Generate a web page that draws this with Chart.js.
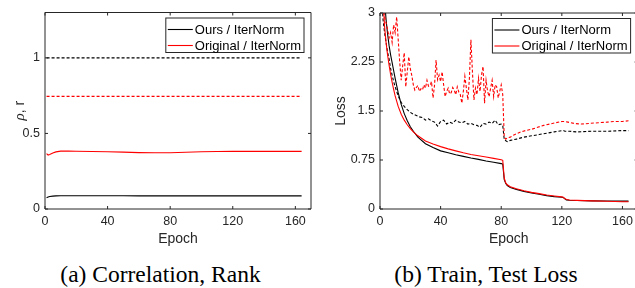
<!DOCTYPE html>
<html>
<head>
<meta charset="utf-8">
<script src="https://cdn.jsdelivr.net/npm/chart.js@4.4.1/dist/chart.umd.min.js"></script>
<style>
  html, body { margin: 0; padding: 0; background: #fff; }
  body { width: 635px; height: 288px; position: relative; overflow: hidden; }
  canvas { position: absolute; top: 0; }
  #corrChart { left: 0; }
  #lossChart { left: 320px; }
  .caption {
    position: absolute; top: 263px;
    font-family: "Liberation Serif", "Times New Roman", serif;
    font-size: 23.5px; line-height: 23.5px;
    white-space: nowrap; transform: translateX(-50%); color: #000;
  }
</style>
</head>
<body>
<canvas id="corrChart" width="318" height="250"></canvas>
<canvas id="lossChart" width="340" height="250"></canvas>
<div class="caption" style="left:160.5px">(a) Correlation, Rank</div>
<div class="caption" style="left:486px">(b) Train, Test Loss</div>

<script>
// ---- shared labels / ticks ----
const seriesLabels = ['Ours / IterNorm', 'Original / IterNorm'];
const epochTicks = [0, 40, 80, 120, 160];
const corrTicks = [0, 0.5, 1];
const lossTicks = [0, 0.75, 1.5, 2.25, 3];

// ---- (a) correlation (solid) and rank (dotted) ----
const corrEpochs = [1, 2, 3, 5, 7, 10, 15, 20, 30, 40, 50, 60, 70, 80, 90, 100, 110, 120, 140, 164];
const oursCorr = [0.075, 0.080, 0.083, 0.085, 0.087, 0.088, 0.088, 0.088, 0.088, 0.088, 0.088, 0.087, 0.087, 0.087, 0.087, 0.087, 0.087, 0.087, 0.087, 0.087];
const origCorr = [0.366, 0.357, 0.360, 0.370, 0.378, 0.383, 0.383, 0.382, 0.380, 0.379, 0.376, 0.373, 0.372, 0.372, 0.375, 0.379, 0.380, 0.381, 0.381, 0.381];
const rankEpochs = [1, 164];
const oursRank = [1, 1];
const origRank = [0.745, 0.745];

// ---- (b) train loss (solid) ----
const trainEpochs = [1, 2, 3, 4, 5, 6, 7, 8, 9, 10, 12, 14, 16, 18, 20, 22, 25, 30, 35, 40, 45, 50, 55, 60, 65, 70, 75, 80, 81,
  82, 83, 84, 86, 90, 95, 100, 105, 110, 115, 120, 121, 122, 123, 125, 130, 140, 150, 160, 164];
const oursTrain = [4.4, 3.7, 3.2, 2.9, 2.68, 2.5, 2.36, 2.24, 2.12, 2.0, 1.78, 1.6, 1.46, 1.35, 1.26, 1.19, 1.1, 1.0, 0.94, 0.89, 0.86, 0.83, 0.805, 0.78, 0.76, 0.735, 0.715, 0.695, 0.685,
  0.45, 0.39, 0.36, 0.33, 0.30, 0.27, 0.245, 0.225, 0.205, 0.19, 0.18, 0.175, 0.155, 0.14, 0.135, 0.13, 0.125, 0.122, 0.12, 0.12];
const origTrain = [3.9, 3.2, 2.8, 2.55, 2.36, 2.2, 2.06, 1.94, 1.83, 1.73, 1.57, 1.45, 1.36, 1.29, 1.23, 1.18, 1.12, 1.04, 0.995, 0.955, 0.92, 0.89, 0.86, 0.835, 0.815, 0.795, 0.775, 0.755, 0.745,
  0.47, 0.40, 0.37, 0.34, 0.31, 0.28, 0.255, 0.235, 0.215, 0.20, 0.185, 0.18, 0.16, 0.145, 0.138, 0.132, 0.125, 0.118, 0.112, 0.11];

// ---- (b) test loss (dotted) ----
const oursTestEpochs = [1, 2, 3, 4, 5, 6, 7, 8, 9, 10, 11, 12, 13, 14, 15, 16, 18, 20, 22, 24, 26, 28, 30, 32, 34, 36, 38, 40, 42, 44, 46, 48, 50,
  52, 54, 56, 58, 60, 62, 64, 66, 68, 70, 72, 74, 76, 78, 80, 81, 82, 84, 86, 90, 95, 100, 105, 110, 115, 120, 121, 122, 125, 130, 140, 150, 160, 164];
const oursTest = [3.3, 2.9, 2.7, 2.55, 2.4, 2.3, 2.15, 2.05, 1.95, 1.87, 1.8, 1.73, 1.68, 1.63, 1.6, 1.57, 1.52, 1.48, 1.45, 1.43, 1.41, 1.4, 1.36, 1.38, 1.35, 1.33, 1.27, 1.34, 1.36, 1.3, 1.33, 1.31, 1.36,
  1.33, 1.32, 1.34, 1.3, 1.31, 1.29, 1.28, 1.25, 1.31, 1.3, 1.33, 1.31, 1.36, 1.29, 1.3, 1.28, 1.06, 1.03, 1.05, 1.07, 1.1, 1.12, 1.14, 1.16, 1.18, 1.2, 1.2, 1.19, 1.19, 1.18, 1.19, 1.19, 1.2, 1.2];
const origTestEpochs = [1, 2, 3, 4, 5, 6, 7, 8, 9, 10, 11, 12, 13, 14, 15, 16, 17, 18, 19, 20, 21, 22, 23, 24, 25, 26, 27, 28, 29, 30,
  31, 32, 33, 34, 35, 36, 37, 38, 39, 40, 41, 42, 43, 44, 45, 46, 47, 48, 49, 50, 51, 52, 53, 54, 55, 56, 57, 58, 59, 60,
  61, 62, 63, 64, 65, 66, 67, 68, 69, 70, 71, 72, 73, 74, 75, 76, 77, 78, 79, 80, 81,
  82, 83, 84, 86, 88, 90, 93, 96, 100, 104, 108, 112, 116, 120, 122, 124, 128, 133, 138, 144, 150, 155, 160, 164];
const origTest = [3.4, 3.1, 2.95, 2.85, 2.75, 2.62, 2.7, 2.55, 2.82, 2.7, 2.94, 2.6, 2.25, 1.97, 2.2, 2.39, 1.87, 2.1, 2.33, 2.15, 2.04, 1.9, 1.82, 1.86, 1.89, 1.8, 1.84, 1.82, 1.9, 1.85,
  1.97, 1.88, 1.89, 1.95, 1.7, 1.9, 2.28, 1.98, 2.05, 1.95, 2.1, 1.9, 1.72, 1.8, 1.85, 1.76, 1.78, 1.86, 1.82, 1.75, 1.87, 1.79, 1.75, 1.62, 1.8, 2.03, 1.85, 1.67, 2.0, 2.59,
  2.1, 1.67, 1.85, 1.75, 2.0, 1.8, 2.05, 2.18, 1.62, 1.97, 1.8, 1.72, 1.85, 1.97, 1.72, 1.9, 1.87, 1.7, 1.8, 1.9, 1.75,
  1.1, 1.07, 1.09, 1.1, 1.13, 1.15, 1.18, 1.2, 1.22, 1.25, 1.28, 1.3, 1.32, 1.34, 1.34, 1.33, 1.31, 1.3, 1.31, 1.32, 1.33, 1.34, 1.34, 1.35];

const FONT = '"Liberation Sans", Arial, sans-serif';
const AXIS = '#262626';
const BLACK = '#000000';
const RED = '#ff0000';

const pts = (xs, ys) => xs.map((x, i) => ({ x, y: ys[i] }));

function series(label, xs, ys, color, dotted) {
  return {
    label, data: pts(xs, ys),
    borderColor: color, backgroundColor: color,
    borderWidth: 1.1, borderDash: dotted ? [3, 2] : [],
    pointRadius: 0, tension: 0, fill: false
  };
}

// box around the plot with inward tick marks on all four sides
const boxPlugin = {
  id: 'axesBox',
  afterDatasetsDraw(chart) {
    const { ctx, chartArea: a, scales: { x, y } } = chart;
    ctx.save();
    ctx.strokeStyle = AXIS;
    ctx.lineWidth = 1;
    ctx.beginPath();
    ctx.rect(a.left, a.top, a.right - a.left, a.bottom - a.top);
    x.ticks.forEach(t => {
      const px = x.getPixelForValue(t.value);
      ctx.moveTo(px, a.bottom); ctx.lineTo(px, a.bottom - 3);
      ctx.moveTo(px, a.top); ctx.lineTo(px, a.top + 3);
    });
    y.ticks.forEach(t => {
      const py = y.getPixelForValue(t.value);
      ctx.moveTo(a.left, py); ctx.lineTo(a.left + 3, py);
      ctx.moveTo(a.right, py); ctx.lineTo(a.right - 3, py);
    });
    ctx.stroke();
    ctx.restore();
  }
};

// matlab style legend box in the upper right corner of the plot
const legendBox = {
  id: 'legendBox',
  afterDraw(chart, args, opts) {
    if (!opts.items) return;
    const { ctx, chartArea: a } = chart;
    ctx.save();
    ctx.font = '13px ' + FONT;
    const tw = Math.max(...opts.items.map(it => ctx.measureText(it.label).width));
    const w = 2 + 25 + 2 + tw + 3, h = 34.5;
    const x0 = a.right - 7 - w, y0 = a.top + 5.5;
    ctx.fillStyle = '#fff';
    ctx.fillRect(x0, y0, w, h);
    ctx.strokeStyle = AXIS;
    ctx.lineWidth = 1;
    ctx.strokeRect(x0, y0, w, h);
    opts.items.forEach((it, i) => {
      const cy = y0 + 11.5 + i * 16;
      ctx.strokeStyle = it.color;
      ctx.lineWidth = 1.1;
      ctx.beginPath(); ctx.moveTo(x0 + 2, cy); ctx.lineTo(x0 + 27, cy); ctx.stroke();
      ctx.fillStyle = '#000';
      ctx.textBaseline = 'middle';
      ctx.fillText(it.label, x0 + 29, cy + 0.5);
    });
    ctx.restore();
  }
};

// rotated y title with an italic rho
const rhoTitle = {
  id: 'rhoTitle',
  afterDraw(chart) {
    const { ctx, chartArea: a } = chart;
    ctx.save();
    ctx.translate(20, (a.top + a.bottom) / 2);
    ctx.rotate(-Math.PI / 2);
    ctx.fillStyle = AXIS;
    ctx.textBaseline = 'middle';
    const f1 = 'italic 15px "Liberation Serif", serif', f2 = '14px ' + FONT;
    ctx.font = f1; const w1 = ctx.measureText('\u03C1').width;
    ctx.font = f2; const w2 = ctx.measureText(', r').width;
    let x = -(w1 + w2) / 2;
    ctx.font = f1; ctx.fillText('\u03C1', x, 0);
    ctx.font = f2; ctx.fillText(', r', x + w1, 0);
    ctx.restore();
  }
};

function axes(yMax, yTicks, yWidth, yTitle) {
  return {
    x: {
      type: 'linear', min: 0, max: 170,
      afterBuildTicks: s => { s.ticks = epochTicks.map(v => ({ value: v })); },
      afterFit: s => { s.height = 41; },
      grid: { display: false, drawTicks: false },
      border: { display: false },
      ticks: { color: AXIS, font: { family: FONT, size: 12.5 }, padding: 5, maxRotation: 0, callback: v => String(v) },
      title: { display: true, text: 'Epoch', color: AXIS, font: { family: FONT, size: 14 }, padding: { top: 0, bottom: 2.6 } }
    },
    y: {
      type: 'linear', min: 0, max: yMax,
      afterBuildTicks: s => { s.ticks = yTicks.map(v => ({ value: v })); },
      afterFit: s => { s.width = yWidth; },
      grid: { display: false, drawTicks: false },
      border: { display: false },
      ticks: { color: AXIS, font: { family: FONT, size: 12.5 }, padding: 5, callback: v => String(v) },
      title: yTitle ? { display: true, text: yTitle, color: AXIS, font: { family: FONT, size: 14 }, padding: { top: 12.6, bottom: 0 } } : { display: false }
    }
  };
}

const legendItems = [
  { label: seriesLabels[0], color: BLACK },
  { label: seriesLabels[1], color: RED }
];

new Chart(document.getElementById('corrChart'), {
  type: 'line',
  data: {
    datasets: [
      series(seriesLabels[1], corrEpochs, origCorr, RED, false),
      series(seriesLabels[1], rankEpochs, origRank, RED, true),
      series(seriesLabels[0], corrEpochs, oursCorr, BLACK, false),
      series(seriesLabels[0], rankEpochs, oursRank, BLACK, true)
    ]
  },
  options: {
    responsive: false, animation: false,
    layout: { padding: { top: 9.5, right: 7, left: 0, bottom: 0 } },
    scales: axes(1.3, corrTicks, 45, null),
    plugins: { legend: { display: false }, tooltip: { enabled: false }, legendBox: { items: legendItems } }
  },
  plugins: [boxPlugin, legendBox, rhoTitle]
});

new Chart(document.getElementById('lossChart'), {
  type: 'line',
  data: {
    datasets: [
      series(seriesLabels[1], trainEpochs, origTrain, RED, false),
      series(seriesLabels[1], origTestEpochs, origTest, RED, true),
      series(seriesLabels[0], trainEpochs, oursTrain, BLACK, false),
      series(seriesLabels[0], oursTestEpochs, oursTest, BLACK, true)
    ]
  },
  options: {
    responsive: false, animation: false,
    layout: { padding: { top: 13, right: 22.4, left: 0, bottom: 0 } },
    scales: axes(3, lossTicks, 60, 'Loss'),
    plugins: { legend: { display: false }, tooltip: { enabled: false }, legendBox: { items: legendItems } }
  },
  plugins: [boxPlugin, legendBox]
});
</script>
</body>
</html>
